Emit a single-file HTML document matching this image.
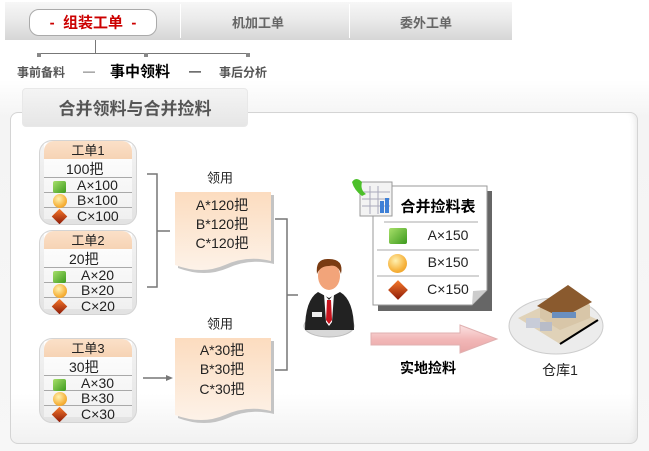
<!DOCTYPE html>
<html><head><meta charset="utf-8"><style>
*{margin:0;padding:0;box-sizing:border-box}
body{width:649px;height:451px;position:relative;overflow:hidden;background:#fff;font-family:"Liberation Sans","Noto Sans CJK SC",sans-serif;color:#222}
.a{position:absolute}
.t{position:absolute;white-space:nowrap;transform:translate(-50%,-50%)}
.card{position:absolute;left:39px;width:98px;height:85px;border-radius:13px;background:linear-gradient(#f4f4f4,#e2e2e2);border:1px solid #d4d4d4;overflow:hidden}
.card .in{position:absolute;left:4px;right:4px;top:2px;bottom:5px;background:linear-gradient(#fff,#f0f0f0)}
.card .hd{position:absolute;left:0;right:0;top:0;height:18px;background:linear-gradient(#fbe0c8,#f6d3b4);border-radius:10px 10px 0 0;text-align:center;font-size:13px;line-height:19px}
.card .ln{position:absolute;left:0;right:0;height:1px;background:#a9a9a9}
.card .tx{position:absolute;font-size:14px;line-height:15px}
.cube{position:absolute;width:13px;height:12px;background:linear-gradient(135deg,#a8e06a,#3c9a1e);border-radius:2px}
.ball{position:absolute;width:14px;height:14px;border-radius:50%;background:radial-gradient(circle at 40% 35%,#fff1b0,#f6b23c 60%,#e59418)}
.dia{position:absolute;width:11px;height:11px;transform:rotate(45deg);background:linear-gradient(135deg,#f77a2a,#8c1a08)}
</style></head><body>
<div class="a" style="left:0;top:80px;width:649px;height:371px;background:linear-gradient(#fff,#f4f4f4 10%,#f7f7f7)"></div>
<div class="a" style="left:5px;top:2px;width:507px;height:38px;background:linear-gradient(#f7f7f7,#e9e9e9 50%,#d6d6d6)"></div>
<div class="a" style="left:180px;top:4px;width:1px;height:34px;background:#fff"></div>
<div class="a" style="left:349px;top:4px;width:1px;height:34px;background:#fff"></div>
<div class="a" style="left:29px;top:9px;width:128px;height:27px;border:1px solid #aaa;border-radius:10px;background:#fff"></div>
<div class="t" style="left:93px;top:22px;color:#c00;font-size:15px;font-weight:bold">-&nbsp; 组装工单 &nbsp;-</div>
<div class="t" style="left:258px;top:22px;color:#666;font-size:13px;font-weight:bold">机加工单</div>
<div class="t" style="left:426px;top:22px;color:#666;font-size:13px;font-weight:bold">委外工单</div>
<div class="a" style="left:95px;top:40px;width:1px;height:13px;background:#777"></div>
<div class="a" style="left:39px;top:53px;width:209px;height:1px;background:#777"></div>
<div class="a" style="left:37px;top:53px;width:4px;height:4px;background:#888"></div>
<div class="a" style="left:144px;top:53px;width:4px;height:4px;background:#888"></div>
<div class="a" style="left:246px;top:53px;width:4px;height:4px;background:#888"></div>
<div class="t" style="left:41px;top:72px;color:#555;font-size:12px;font-weight:bold">事前备料</div>
<div class="t" style="left:89px;top:71px;color:#555;font-size:12px">—</div>
<div class="t" style="left:140px;top:71px;color:#000;font-size:15px;font-weight:bold">事中领料</div>
<div class="t" style="left:195px;top:71px;color:#333;font-size:12px;font-weight:bold">—</div>
<div class="t" style="left:243px;top:72px;color:#555;font-size:12px;font-weight:bold">事后分析</div>
<div class="a" style="left:10px;top:112px;width:628px;height:332px;border:1px solid #d4d4d4;border-radius:8px;background:linear-gradient(#fff 85%,#f1f1f1);box-shadow:inset -6px 0 8px -6px #ddd"></div>
<div class="a" style="left:22px;top:88px;width:226px;height:39px;border:1px solid #e8e8e8;border-radius:4px;background:linear-gradient(#f4f4f4,#e6e6e6)"></div>
<div class="t" style="left:135px;top:107px;color:#555;font-size:17px;font-weight:bold">合并领料与合并捡料</div>

<div class="card" style="top:140px"><div class="in"></div><div class="hd" style="left:4px;right:4px">工单1</div>
<div class="tx" style="left:26px;top:21px">100把</div>
<div class="ln" style="top:36px;left:4px;right:4px"></div><div class="ln" style="top:51px;left:4px;right:4px"></div><div class="ln" style="top:66px;left:4px;right:4px"></div>
<div class="cube" style="left:13px;top:40px"></div><div class="ball" style="left:13px;top:53px"></div><div class="dia" style="left:14px;top:70px"></div>
<div class="tx" style="left:37px;top:37px">A×100</div><div class="tx" style="left:37px;top:52px">B×100</div><div class="tx" style="left:37px;top:68px">C×100</div></div>

<div class="card" style="top:230px"><div class="in"></div><div class="hd" style="left:4px;right:4px">工单2</div>
<div class="tx" style="left:29px;top:21px">20把</div>
<div class="ln" style="top:36px;left:4px;right:4px"></div><div class="ln" style="top:51px;left:4px;right:4px"></div><div class="ln" style="top:66px;left:4px;right:4px"></div>
<div class="cube" style="left:13px;top:40px"></div><div class="ball" style="left:13px;top:53px"></div><div class="dia" style="left:14px;top:70px"></div>
<div class="tx" style="left:41px;top:37px">A×20</div><div class="tx" style="left:41px;top:52px">B×20</div><div class="tx" style="left:41px;top:68px">C×20</div></div>

<div class="card" style="top:338px"><div class="in"></div><div class="hd" style="left:4px;right:4px">工单3</div>
<div class="tx" style="left:29px;top:21px">30把</div>
<div class="ln" style="top:36px;left:4px;right:4px"></div><div class="ln" style="top:51px;left:4px;right:4px"></div><div class="ln" style="top:66px;left:4px;right:4px"></div>
<div class="cube" style="left:13px;top:40px"></div><div class="ball" style="left:13px;top:53px"></div><div class="dia" style="left:14px;top:70px"></div>
<div class="tx" style="left:41px;top:37px">A×30</div><div class="tx" style="left:41px;top:52px">B×30</div><div class="tx" style="left:41px;top:68px">C×30</div></div>

<svg class="a" style="left:0;top:0" width="649" height="451">
<defs><linearGradient id="dg" x1="0" y1="0" x2="0" y2="1"><stop offset="0" stop-color="#fcdcbf"/><stop offset="1" stop-color="#fdf2e8"/></linearGradient>
<linearGradient id="pg" x1="0" y1="0" x2="0" y2="1"><stop offset="0" stop-color="#fbe3e3"/><stop offset=".5" stop-color="#f2b8b8"/><stop offset="1" stop-color="#e9a6a6"/></linearGradient></defs>
<path d="M147 174 H157 V287 H147 M157 231 H170" fill="none" stroke="#777" stroke-width="1.5"/>
<path d="M275 219 H287 V370 H275 M287 295 H298" fill="none" stroke="#777" stroke-width="1.5"/>
<path d="M143 378 H168" stroke="#777" stroke-width="1.5"/><path d="M166 375 L173 378 L166 381Z" fill="#777"/>
<path d="M178 195 H274 V264 Q250 258 228 268 Q205 278 178 268Z" fill="#c4c4c4"/>
<path d="M175 192 H271 V261 Q247 255 225 265 Q202 275 175 265Z" fill="url(#dg)"/>
<path d="M178 341 H274 V414 Q250 408 228 418 Q205 428 178 418Z" fill="#c4c4c4"/>
<path d="M175 338 H271 V411 Q247 405 225 415 Q202 425 175 415Z" fill="url(#dg)"/>
<path d="M371 333 H460 V325 L497 339 L460 353 V345 H371Z" fill="url(#pg)" stroke="#e0b0b0"/>
<rect x="378" y="191" width="114" height="120" fill="#666"/>
<path d="M373 186 H487 V290 L472 305 H373Z" fill="#fff" stroke="#999"/>
<path d="M472 305 L487 290 L473 291Z" fill="#ccc"/>
<line x1="384" y1="222" x2="478" y2="222" stroke="#aaa"/>
<line x1="377" y1="250" x2="479" y2="250" stroke="#aaa"/>
<line x1="377" y1="276" x2="479" y2="276" stroke="#aaa"/>
<rect x="360" y="182" width="32" height="34" fill="#f3f3f3" stroke="#999"/>
<g stroke="#aab" stroke-width="1"><line x1="362" y1="192" x2="390" y2="192"/><line x1="362" y1="199" x2="390" y2="199"/><line x1="362" y1="206" x2="390" y2="206"/><line x1="370" y1="186" x2="370" y2="214"/><line x1="378" y1="186" x2="378" y2="214"/></g>
<rect x="380" y="201" width="4" height="12" fill="#3d7fd6"/><rect x="385" y="198" width="4" height="15" fill="#3d7fd6"/>
<path d="M352 182 Q356 176 362 182 Q360 190 366 194 L362 196 Q354 190 352 182Z" fill="#4cc02a"/>
<ellipse cx="329" cy="326" rx="25" ry="11" fill="#d8d8d8" stroke="#bbb"/>
<path d="M305 330 Q305 300 318 292 L329 298 L340 292 Q354 300 354 330Z" fill="#222"/>
<path d="M324 294 L329 300 L334 294 L332 322 L329 326 L326 322Z" fill="#fff"/>
<path d="M327 300 L331 300 L332 320 L329 324 L326 320Z" fill="#c8141e"/>
<rect x="312" y="312" width="10" height="5" fill="#eee"/>
<ellipse cx="329" cy="276" rx="11" ry="14" fill="#f2a47a"/>
<path d="M317 274 Q315 258 329 259 Q344 259 341 274 Q338 264 329 266 Q320 266 317 274Z" fill="#7a3b12"/>
<ellipse cx="556" cy="326" rx="47" ry="28" fill="#ececec" stroke="#ccc"/>
<path d="M518 318 L556 300 L598 320 L560 344Z" fill="#e0d2b8"/>
<path d="M560 344 L598 320" stroke="#000" stroke-width="2"/>
<path d="M540 305 L572 292 L590 305 L590 318 L560 330 L540 318Z" fill="#d8c6a8"/>
<path d="M537 306 L568 285 L592 302 L562 318Z" fill="#8a5a2e"/>
<rect x="552" y="312" width="24" height="6" fill="#6a8fbf"/>
<rect x="526" y="318" width="14" height="10" fill="#c8ccd8"/>
<rect x="540" y="322" width="12" height="9" fill="#b8bcc8"/>
</svg>
<div class="t" style="left:220px;top:177px;font-size:13px">领用</div>
<div class="t" style="left:222px;top:205px;font-size:14px">A*120把</div>
<div class="t" style="left:222px;top:224px;font-size:14px">B*120把</div>
<div class="t" style="left:222px;top:243px;font-size:14px">C*120把</div>
<div class="t" style="left:220px;top:323px;font-size:13px">领用</div>
<div class="t" style="left:222px;top:350px;font-size:14px">A*30把</div>
<div class="t" style="left:222px;top:369px;font-size:14px">B*30把</div>
<div class="t" style="left:222px;top:389px;font-size:14px">C*30把</div>
<div class="t" style="left:438px;top:206px;font-size:15px;font-weight:bold;color:#000">合并捡料表</div>
<div class="cube" style="left:389px;top:228px;width:18px;height:16px"></div>
<div class="ball" style="left:388px;top:254px;width:19px;height:19px"></div>
<div class="dia" style="left:391px;top:283px;width:14px;height:14px"></div>
<div class="t" style="left:448px;top:235px;font-size:14px">A×150</div>
<div class="t" style="left:448px;top:262px;font-size:14px">B×150</div>
<div class="t" style="left:448px;top:289px;font-size:14px">C×150</div>
<div class="t" style="left:428px;top:368px;font-size:14px;font-weight:bold;color:#000">实地捡料</div>
<div class="t" style="left:560px;top:370px;font-size:14px">仓库1</div>
</body></html>
